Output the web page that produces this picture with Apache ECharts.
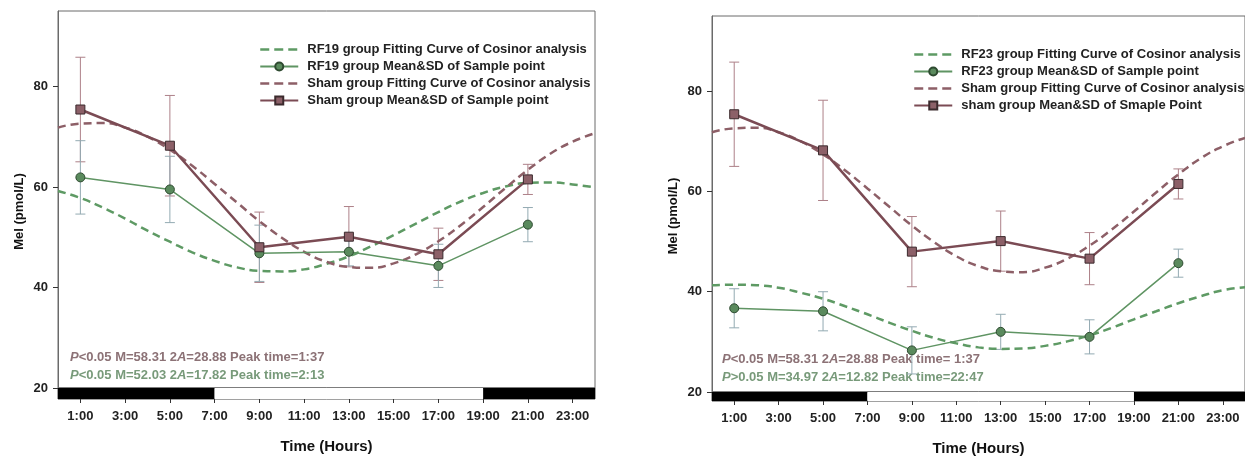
<!DOCTYPE html>
<html>
<head>
<meta charset="utf-8">
<script src="https://cdn.jsdelivr.net/npm/echarts@6/dist/echarts.min.js"></script>
<style>
html, body { margin: 0; padding: 0; background: #fff; }
#main { width: 1245px; height: 457px; }
</style>
</head>
<body>
<div id="main"></div>
<script>
// sampling times (h) and mean / SD
const sampleHours = [1, 5, 9, 13, 17, 21];
const shamMean = [75.4, 68.2, 48.0, 50.1, 46.6, 61.5];
const shamSD = [10.4, 10.0, 7.0, 6.0, 5.2, 3.0];
const rf19Mean = [61.9, 59.5, 46.8, 47.1, 44.3, 52.5];
const rf19SD = [7.3, 6.6, 5.6, 2.8, 4.3, 3.4];
const rf23Mean = [36.7, 36.1, 28.3, 32.0, 31.0, 45.7];
const rf23SD = [3.9, 3.9, 4.7, 3.5, 3.4, 2.8];

// cosinor fitting curves, read hour by hour from the dashed lines
const fitHours = [0, 1, 2, 3, 4, 5, 6, 7, 8, 9, 10, 11, 12, 13, 14, 15, 16, 17, 18, 19, 20, 21, 22, 23, 24];
const shamFit = [71.8, 72.6, 72.7, 71.8, 70.0, 67.4, 64.2, 60.6, 56.9, 53.2, 49.9, 47.1, 45.1, 44.1, 43.9, 44.8, 46.6, 49.2, 52.4, 56.0, 59.8, 63.4, 66.6, 69.0, 70.7];
const rf19Fit = [59.2, 57.8, 55.9, 53.7, 51.3, 49.1, 47.0, 45.3, 44.0, 43.3, 43.2, 43.6, 44.7, 46.2, 48.2, 50.4, 52.7, 55.0, 57.1, 58.8, 60.1, 60.8, 60.9, 60.5, 59.9];
const rf23Fit = [41.3, 41.4, 41.3, 40.8, 39.8, 38.6, 37.1, 35.5, 33.8, 32.2, 30.8, 29.7, 28.9, 28.6, 28.7, 29.2, 30.1, 31.3, 32.8, 34.5, 36.1, 37.7, 39.1, 40.3, 40.9];

const tickHours = [1, 3, 5, 7, 9, 11, 13, 15, 17, 19, 21, 23];
const yTicks = [20, 40, 60, 80];
// [start, end, 1 = light / 0 = dark]
const lightPhases = [[0, 7, 0], [7, 19, 1], [19, 24, 0]];

const FONT = '"Liberation Sans", Arial, sans-serif';
const GREEN = '#5f9463';
const GREEN_DASH = '#5e9a64';
const GREEN_ERR = '#93aab2';
const SHAM = '#7b4b54';
const SHAM_DASH = '#8d5f67';
const SHAM_ERR = '#ad8088';
const CLEAR = 'rgba(0,0,0,0)';

const panels = [
  {
    left: 58, top: 11, bottom: 388,
    fitName: 'RF19 group Fitting Curve of Cosinor analysis',
    meanName: 'RF19 group Mean&SD of Sample point',
    shamMeanName: 'Sham group Mean&SD of Sample point',
    fit: rf19Fit, mean: rf19Mean, sd: rf19SD,
    legendLeft: 259, legendTop: 43,
    noteLeft: 70, noteTop: 351,
    notes: ['{i|P}<0.05 M=58.31 2{i|A}=28.88 Peak time=1:37', '{i|P}<0.05 M=52.03 2{i|A}=17.82 Peak time=2:13']
  },
  {
    left: 712, top: 16, bottom: 392,
    fitName: 'RF23 group Fitting Curve of Cosinor analysis',
    meanName: 'RF23 group Mean&SD of Sample point',
    shamMeanName: 'sham group Mean&SD of Smaple Point',
    fit: rf23Fit, mean: rf23Mean, sd: rf23SD,
    legendLeft: 913, legendTop: 48,
    noteLeft: 722, noteTop: 353,
    notes: ['{i|P}<0.05 M=58.31 2{i|A}=28.88 Peak time= 1:37', '{i|P}>0.05 M=34.97 2{i|A}=12.82 Peak time=22:47']
  }
];
const SHAM_FIT_NAME = 'Sham group Fitting Curve of Cosinor analysis';

function errorBar(color) {
  return function (params, api) {
    const x = api.value(0);
    const top = api.coord([x, api.value(2)]);
    const bot = api.coord([x, api.value(1)]);
    const w = 5;
    const st = { stroke: color, lineWidth: 1 };
    return {
      type: 'group',
      children: [
        { type: 'line', shape: { x1: top[0], y1: top[1], x2: bot[0], y2: bot[1] }, style: st },
        { type: 'line', shape: { x1: top[0] - w, y1: top[1], x2: top[0] + w, y2: top[1] }, style: st },
        { type: 'line', shape: { x1: bot[0] - w, y1: bot[1], x2: bot[0] + w, y2: bot[1] }, style: st }
      ]
    };
  };
}

function phaseRect(params, api) {
  const s = api.coord([api.value(0), 1]);
  const e = api.coord([api.value(1), 0]);
  return {
    type: 'rect',
    shape: { x: s[0], y: s[1], width: e[0] - s[0], height: e[1] - s[1] },
    style: { fill: api.value(2) ? '#fff' : '#000' }
  };
}

const grid = [], xAxis = [], yAxis = [], series = [], legend = [], graphic = [];

panels.forEach(function (p, k) {
  const g = k * 2;
  grid.push({ left: p.left, top: p.top, width: 537, height: p.bottom - p.top, show: true, borderColor: '#6a6a6a', borderWidth: 1 });
  grid.push({ left: p.left, top: p.bottom, width: 537, height: 11, show: true, borderColor: '#444', borderWidth: 1 });

  xAxis.push({ gridIndex: g, type: 'value', min: 0, max: 24, show: false });
  xAxis.push({
    gridIndex: g + 1, type: 'value', min: 0, max: 24, position: 'bottom',
    axisLine: { show: false },
    splitLine: { show: false },
    axisTick: { customValues: tickHours, length: 4, lineStyle: { color: '#333' } },
    axisLabel: { customValues: tickHours, formatter: function (v) { return v + ':00'; }, margin: 11, fontSize: 13, fontWeight: 'bold', color: '#222', fontFamily: FONT },
    name: 'Time (Hours)', nameLocation: 'middle', nameGap: 40,
    nameTextStyle: { fontSize: 15, fontWeight: 'bold', color: '#111', fontFamily: FONT }
  });

  yAxis.push({
    gridIndex: g, type: 'value', min: 20, max: 95,
    axisLine: { show: true, lineStyle: { color: '#6a6a6a' } },
    splitLine: { show: false },
    axisTick: { show: true, customValues: yTicks, length: 5, lineStyle: { color: '#333' } },
    axisLabel: { customValues: yTicks, margin: 10, fontSize: 13, fontWeight: 'bold', color: '#222', fontFamily: FONT },
    name: 'Mel (pmol/L)', nameLocation: 'middle', nameGap: 32, nameRotate: 90,
    nameTextStyle: { fontSize: 13, fontWeight: 'bold', color: '#111', fontFamily: FONT, padding: [0, 24, 0, 0] }
  });
  yAxis.push({ gridIndex: g + 1, type: 'value', min: 0, max: 1, show: false });

  // day / night bar
  series.push({
    type: 'custom', xAxisIndex: g + 1, yAxisIndex: g + 1, silent: true,
    renderItem: phaseRect, data: lightPhases
  });

  // fitting curves (transparent item colour keeps the legend icon a plain dashed line)
  series.push({
    name: p.fitName, type: 'line', xAxisIndex: g, yAxisIndex: g, smooth: true, symbol: 'none',
    data: fitHours.map(function (h, i) { return [h, p.fit[i]]; }),
    lineStyle: { color: GREEN_DASH, width: 2.5, type: [8, 5] },
    itemStyle: { color: CLEAR, borderWidth: 0 }
  });
  series.push({
    name: SHAM_FIT_NAME, type: 'line', xAxisIndex: g, yAxisIndex: g, smooth: true, symbol: 'none',
    data: fitHours.map(function (h, i) { return [h, shamFit[i]]; }),
    lineStyle: { color: SHAM_DASH, width: 2.5, type: [8, 5] },
    itemStyle: { color: CLEAR, borderWidth: 0 }
  });

  // SD bars
  series.push({
    type: 'custom', xAxisIndex: g, yAxisIndex: g, silent: true, renderItem: errorBar(SHAM_ERR),
    data: sampleHours.map(function (h, i) { return [h, shamMean[i] - shamSD[i], shamMean[i] + shamSD[i]]; })
  });
  series.push({
    type: 'custom', xAxisIndex: g, yAxisIndex: g, silent: true, renderItem: errorBar(GREEN_ERR),
    data: sampleHours.map(function (h, i) { return [h, p.mean[i] - p.sd[i], p.mean[i] + p.sd[i]]; })
  });

  // means
  series.push({
    name: p.meanName, type: 'line', xAxisIndex: g, yAxisIndex: g,
    data: sampleHours.map(function (h, i) { return [h, p.mean[i]]; }),
    symbol: 'circle', symbolSize: 9,
    lineStyle: { color: GREEN, width: 1.5 },
    itemStyle: { color: '#5a8a5d', borderColor: '#2e4a30', borderWidth: 1 }
  });
  series.push({
    name: p.shamMeanName, type: 'line', xAxisIndex: g, yAxisIndex: g,
    data: sampleHours.map(function (h, i) { return [h, shamMean[i]]; }),
    symbol: 'rect', symbolSize: 9,
    lineStyle: { color: SHAM, width: 2.5 },
    itemStyle: { color: '#8c6068', borderColor: '#3b2a2d', borderWidth: 1 }
  });

  const dashIcon = { width: 2.5, type: [9, 5] };
  legend.push({
    left: p.legendLeft, top: p.legendTop, orient: 'vertical', padding: 0,
    itemWidth: 38, itemHeight: 10, itemGap: 4, selectedMode: false,
    textStyle: { fontSize: 13, fontWeight: 'bold', color: '#222', fontFamily: FONT, padding: [0, 0, 0, 4] },
    data: [
      { name: p.fitName, lineStyle: dashIcon },
      { name: p.meanName },
      { name: SHAM_FIT_NAME, lineStyle: dashIcon },
      { name: p.shamMeanName }
    ]
  });

  p.notes.forEach(function (t, j) {
    const col = j === 0 ? '#8c7276' : '#789a7a';
    graphic.push({
      type: 'text', left: p.noteLeft, top: p.noteTop + j * 18,
      style: {
        text: t, fill: col, font: 'bold 13px ' + FONT,
        rich: { i: { fontStyle: 'italic', fontWeight: 'bold', fontSize: 13, fontFamily: FONT, fill: col } }
      }
    });
  });
});

const chart = echarts.init(document.getElementById('main'));
chart.setOption({
  animation: false,
  backgroundColor: '#fff',
  grid: grid,
  xAxis: xAxis,
  yAxis: yAxis,
  legend: legend,
  graphic: graphic,
  series: series
});
</script>
</body>
</html>
